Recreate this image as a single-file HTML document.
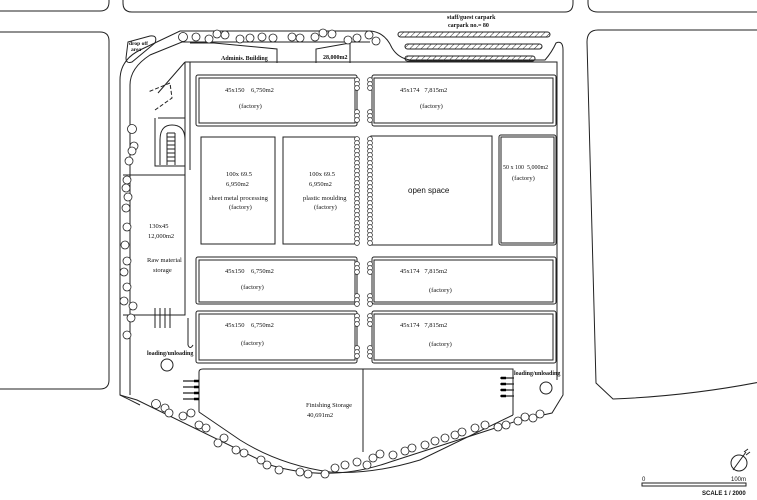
<!DOCTYPE html>
<html><head><meta charset="utf-8"><style>
html,body{margin:0;padding:0;background:#fff;width:757px;height:500px;overflow:hidden}
svg{display:block}
text{font-family:"Liberation Serif",serif;font-size:6.5px;fill:#111}
.b{font-weight:bold;font-size:6px}
.s{font-family:"Liberation Sans",sans-serif}
</style></head><body>
<svg width="757" height="500" viewBox="0 0 757 500" xmlns="http://www.w3.org/2000/svg">
<defs>
<pattern id="h" width="4" height="4" patternUnits="userSpaceOnUse" patternTransform="rotate(45)"><line x1="0" y1="0" x2="0" y2="4" stroke="#333" stroke-width="1"/></pattern>
</defs>
<g fill="none" stroke="#222" stroke-width="1">
<path d="M-5,-5 H109 V2 Q109,11 100,11 H-5"/>
<path d="M123,-5 V3 Q123,12 132,12 H565 Q573,12 573,3 V-5"/>
<path d="M588,-5 V3 Q588,12 598,12 H765"/>
<path d="M-5,32 H100 Q109,32 109,41 V380 Q109,389 100,389 H-5"/>
<path d="M765,30 H598 Q587,30 587,42 L596,383 L613,399 Q690,396 765,381"/>
<path d="M120,395 V80 Q120,60 140,50 L180,31 H370 Q385,32 392,48 Q398,58 410,60 H545 Q552,52 556,43 Q563,40 563,50 V395 L552,413 L520,420 L390,462 Q330,483 270,465 L137,400 Z"/>
<path d="M130,395 V85 Q130,68 150,55 L182,42 H370"/>
<path d="M120,395 L140,405"/>
<path d="M185,62 H557 V380"/>
<path d="M190,62 V170 M185,62 L158,93 M185,62 V180"/>
<path d="M128,42 L150,36 Q158,35 155,43 L132,62 Q126,64 126,58 Z"/>
<path d="M214,43 L277,49 V63 M214,43 L190,43"/>
<path d="M316,63 V49 L350,43 V63"/>
<rect x="398" y="32" width="152" height="5" rx="2.5" fill="url(#h)"/>
<rect x="405" y="44" width="137" height="5" rx="2.5" fill="url(#h)"/>
<rect x="405" y="56" width="130" height="5" rx="2.5" fill="url(#h)"/>
<path d="M155,110 L172,98 L170,83 L148,92" stroke-dasharray="4,2"/>
<path d="M158,118 H185 M155,118 V166 H185"/>
<path d="M160,165 V140 Q160,125 172,125 Q185,125 185,140 V165"/>
<path d="M167,133 h8 M167,137 h8 M167,141 h8 M167,145 h8 M167,149 h8 M167,153 h8 M167,157 h8 M167,161 h8 M167,133 V165 M175,133 V165"/>
<path d="M185,175 V315 H123 M123,175 H185"/>
<path d="M188,318 V345 Q190,350 193,345"/>
<path d="M155,308 v20 M160,308 v20 M165,308 v20 M170,308 v20"/>
<circle cx="167" cy="365" r="6"/>
<circle cx="546" cy="388" r="6"/>
<rect x="196" y="75" width="161" height="51" rx="2"/>
<rect x="199" y="78" width="156" height="45"/>
<rect x="372" y="75" width="184" height="51" rx="2"/>
<rect x="374" y="78" width="179" height="45"/>
<rect x="201" y="137" width="74" height="107"/>
<rect x="283" y="137" width="74" height="107"/>
<rect x="371" y="136" width="121" height="109"/>
<rect x="499" y="135" width="57" height="110" rx="2"/>
<rect x="501" y="137" width="53" height="106"/>
<rect x="196" y="257" width="161" height="47" rx="2"/>
<rect x="199" y="260" width="156" height="42"/>
<rect x="372" y="257" width="184" height="47" rx="2"/>
<rect x="374" y="260" width="179" height="42"/>
<rect x="196" y="311" width="161" height="52" rx="2"/>
<rect x="199" y="314" width="156" height="46"/>
<rect x="372" y="311" width="184" height="52" rx="2"/>
<rect x="374" y="314" width="179" height="46"/>
<path d="M199,412 V372 Q199,369 203,369 H513 V415"/>
<path d="M199,412 L240,440 Q280,465 330,472 Q370,475 420,460 L513,415"/>
<path d="M363,369 V452"/>
<g stroke-width="1.2">
<path d="M183,381 h14 M183,387 h14 M183,393 h14 M183,399 h14"/>
<path d="M500,378 h14 M500,384 h14 M500,390 h14 M500,396 h14"/>
</g>
<g stroke="#000" stroke-width="2.5"><path d="M194,381h5M194,387h5M194,393h5M194,399h5M506,378h-5M506,384h-5M506,390h-5M506,396h-5"/></g>
<circle cx="739" cy="463" r="8"/>
<path d="M733,470 L746,452 M744,452 l4,-3 M746,455 l4,-3"/>
<rect x="642" y="483" width="104" height="3"/>
</g>
<g fill="#fff" stroke="#222" stroke-width="0.8">
<circle cx="183" cy="37" r="4.5"/><circle cx="196" cy="37" r="4"/><circle cx="209" cy="39" r="4"/><circle cx="217" cy="34" r="4"/><circle cx="225" cy="35" r="4"/><circle cx="240" cy="39" r="4"/><circle cx="250" cy="38" r="4"/><circle cx="262" cy="37" r="4"/><circle cx="273" cy="38" r="4"/><circle cx="292" cy="37" r="4"/><circle cx="300" cy="38" r="4"/><circle cx="315" cy="37" r="4"/><circle cx="323" cy="33" r="4"/><circle cx="332" cy="34" r="4"/><circle cx="348" cy="40" r="4"/><circle cx="357" cy="38" r="4"/><circle cx="369" cy="35" r="4"/><circle cx="376" cy="41" r="4"/>
<circle cx="132" cy="129" r="4.5"/><circle cx="134" cy="146" r="4"/><circle cx="132" cy="151" r="4"/><circle cx="129" cy="161" r="4"/><circle cx="127" cy="180" r="4"/><circle cx="126" cy="188" r="4"/><circle cx="128" cy="197" r="4"/><circle cx="126" cy="208" r="4"/><circle cx="127" cy="227" r="4"/><circle cx="125" cy="245" r="4"/><circle cx="127" cy="261" r="4"/><circle cx="124" cy="272" r="4"/><circle cx="127" cy="287" r="4"/><circle cx="124" cy="301" r="4"/><circle cx="133" cy="306" r="4"/><circle cx="131" cy="318" r="4"/><circle cx="127" cy="335" r="4"/>
<circle cx="156" cy="404" r="4.5"/><circle cx="165" cy="408" r="4"/><circle cx="169" cy="413" r="4"/><circle cx="183" cy="416" r="4"/><circle cx="191" cy="413" r="4"/><circle cx="199" cy="425" r="4"/><circle cx="206" cy="428" r="4"/><circle cx="218" cy="443" r="4"/><circle cx="224" cy="438" r="4"/><circle cx="236" cy="450" r="4"/><circle cx="244" cy="453" r="4"/><circle cx="261" cy="460" r="4"/><circle cx="267" cy="465" r="4"/><circle cx="279" cy="470" r="4"/><circle cx="300" cy="472" r="4"/><circle cx="308" cy="474" r="4"/><circle cx="325" cy="474" r="4"/><circle cx="335" cy="468" r="4"/><circle cx="345" cy="465" r="4"/><circle cx="357" cy="462" r="4"/><circle cx="367" cy="465" r="4"/><circle cx="373" cy="458" r="4"/><circle cx="380" cy="454" r="4"/><circle cx="393" cy="455" r="4"/><circle cx="405" cy="451" r="4"/><circle cx="412" cy="448" r="4"/><circle cx="425" cy="445" r="4"/><circle cx="435" cy="441" r="4"/><circle cx="445" cy="438" r="4"/><circle cx="455" cy="435" r="4"/><circle cx="462" cy="432" r="4"/><circle cx="475" cy="428" r="4"/><circle cx="485" cy="425" r="4"/><circle cx="498" cy="427" r="4"/><circle cx="506" cy="425" r="4"/><circle cx="518" cy="421" r="4"/><circle cx="525" cy="417" r="4"/><circle cx="533" cy="418" r="4"/><circle cx="540" cy="414" r="4"/>
</g>
<g fill="#fff" stroke="#222" stroke-width="0.7">
<g id="c1">
<circle cx="357" cy="80" r="2.4"/><circle cx="357" cy="84" r="2.4"/><circle cx="357" cy="88" r="2.4"/><circle cx="357" cy="112" r="2.4"/><circle cx="357" cy="116" r="2.4"/><circle cx="357" cy="120" r="2.4"/>
</g>
<use href="#c1" x="13"/>
<use href="#c1" y="184"/><use href="#c1" x="13" y="184"/>
<use href="#c1" y="236"/><use href="#c1" x="13" y="236"/>
<g id="c2">
<circle cx="357" cy="139" r="2.4"/><circle cx="357" cy="143" r="2.4"/><circle cx="357" cy="147" r="2.4"/><circle cx="357" cy="151" r="2.4"/><circle cx="357" cy="155" r="2.4"/><circle cx="357" cy="159" r="2.4"/><circle cx="357" cy="163" r="2.4"/><circle cx="357" cy="167" r="2.4"/><circle cx="357" cy="171" r="2.4"/><circle cx="357" cy="175" r="2.4"/><circle cx="357" cy="179" r="2.4"/><circle cx="357" cy="183" r="2.4"/><circle cx="357" cy="187" r="2.4"/><circle cx="357" cy="191" r="2.4"/><circle cx="357" cy="195" r="2.4"/><circle cx="357" cy="199" r="2.4"/><circle cx="357" cy="203" r="2.4"/><circle cx="357" cy="207" r="2.4"/><circle cx="357" cy="211" r="2.4"/><circle cx="357" cy="215" r="2.4"/><circle cx="357" cy="219" r="2.4"/><circle cx="357" cy="223" r="2.4"/><circle cx="357" cy="227" r="2.4"/><circle cx="357" cy="231" r="2.4"/><circle cx="357" cy="235" r="2.4"/><circle cx="357" cy="239" r="2.4"/><circle cx="357" cy="243" r="2.4"/>
</g>
<use href="#c2" x="13"/>
</g>
<text x="129" y="45" class="b" style="font-size:5.5px">drop off</text>
<text x="131" y="51" class="b" style="font-size:5.5px">area</text>
<text x="221" y="60" class="b">Adminis. Building</text>
<text x="323" y="59" class="b">28,000m2</text>
<text x="447" y="19" class="b">staff/guest carpark</text>
<text x="448" y="27" class="b">carpark no.= 80</text>
<text x="225" y="92">45x150&#160;&#160;&#160;&#160;6,750m2</text>
<text x="239" y="108">(factory)</text>
<text x="400" y="92">45x174&#160;&#160;&#160;7,815m2</text>
<text x="420" y="108">(factory)</text>
<text x="226" y="176">100x 69.5</text>
<text x="226" y="186">6,950m2</text>
<text x="209" y="200">sheet metal processing</text>
<text x="229" y="209">(factory)</text>
<text x="309" y="176">100x 69.5</text>
<text x="309" y="186">6,950m2</text>
<text x="303" y="200">plastic moulding</text>
<text x="314" y="209">(factory)</text>
<text x="408" y="193" class="s" style="font-size:8px">open space</text>
<text x="503" y="169" style="font-size:6px">50 x 100&#160;&#160;5,000m2</text>
<text x="512" y="180">(factory)</text>
<text x="149" y="228">130x45</text>
<text x="148" y="238">12,000m2</text>
<text x="147" y="262">Raw material</text>
<text x="153" y="272">storage</text>
<text x="225" y="273">45x150&#160;&#160;&#160;&#160;6,750m2</text>
<text x="241" y="289">(factory)</text>
<text x="400" y="273">45x174&#160;&#160;&#160;7,815m2</text>
<text x="429" y="292">(factory)</text>
<text x="225" y="327">45x150&#160;&#160;&#160;&#160;6,750m2</text>
<text x="241" y="345">(factory)</text>
<text x="400" y="327">45x174&#160;&#160;&#160;7,815m2</text>
<text x="429" y="346">(factory)</text>
<text x="147" y="355" class="b">loading/unloading</text>
<text x="514" y="375" class="b">loading/unloading</text>
<text x="306" y="407">Finishing Storage</text>
<text x="307" y="417">40,691m2</text>
<text x="642" y="481" class="s" style="font-size:6px">0</text>
<text x="731" y="481" class="s" style="font-size:6px">100m</text>
<text x="702" y="495" class="s" font-weight="bold" style="font-size:6px">SCALE 1 / 2000</text>
</svg>
</body></html>
